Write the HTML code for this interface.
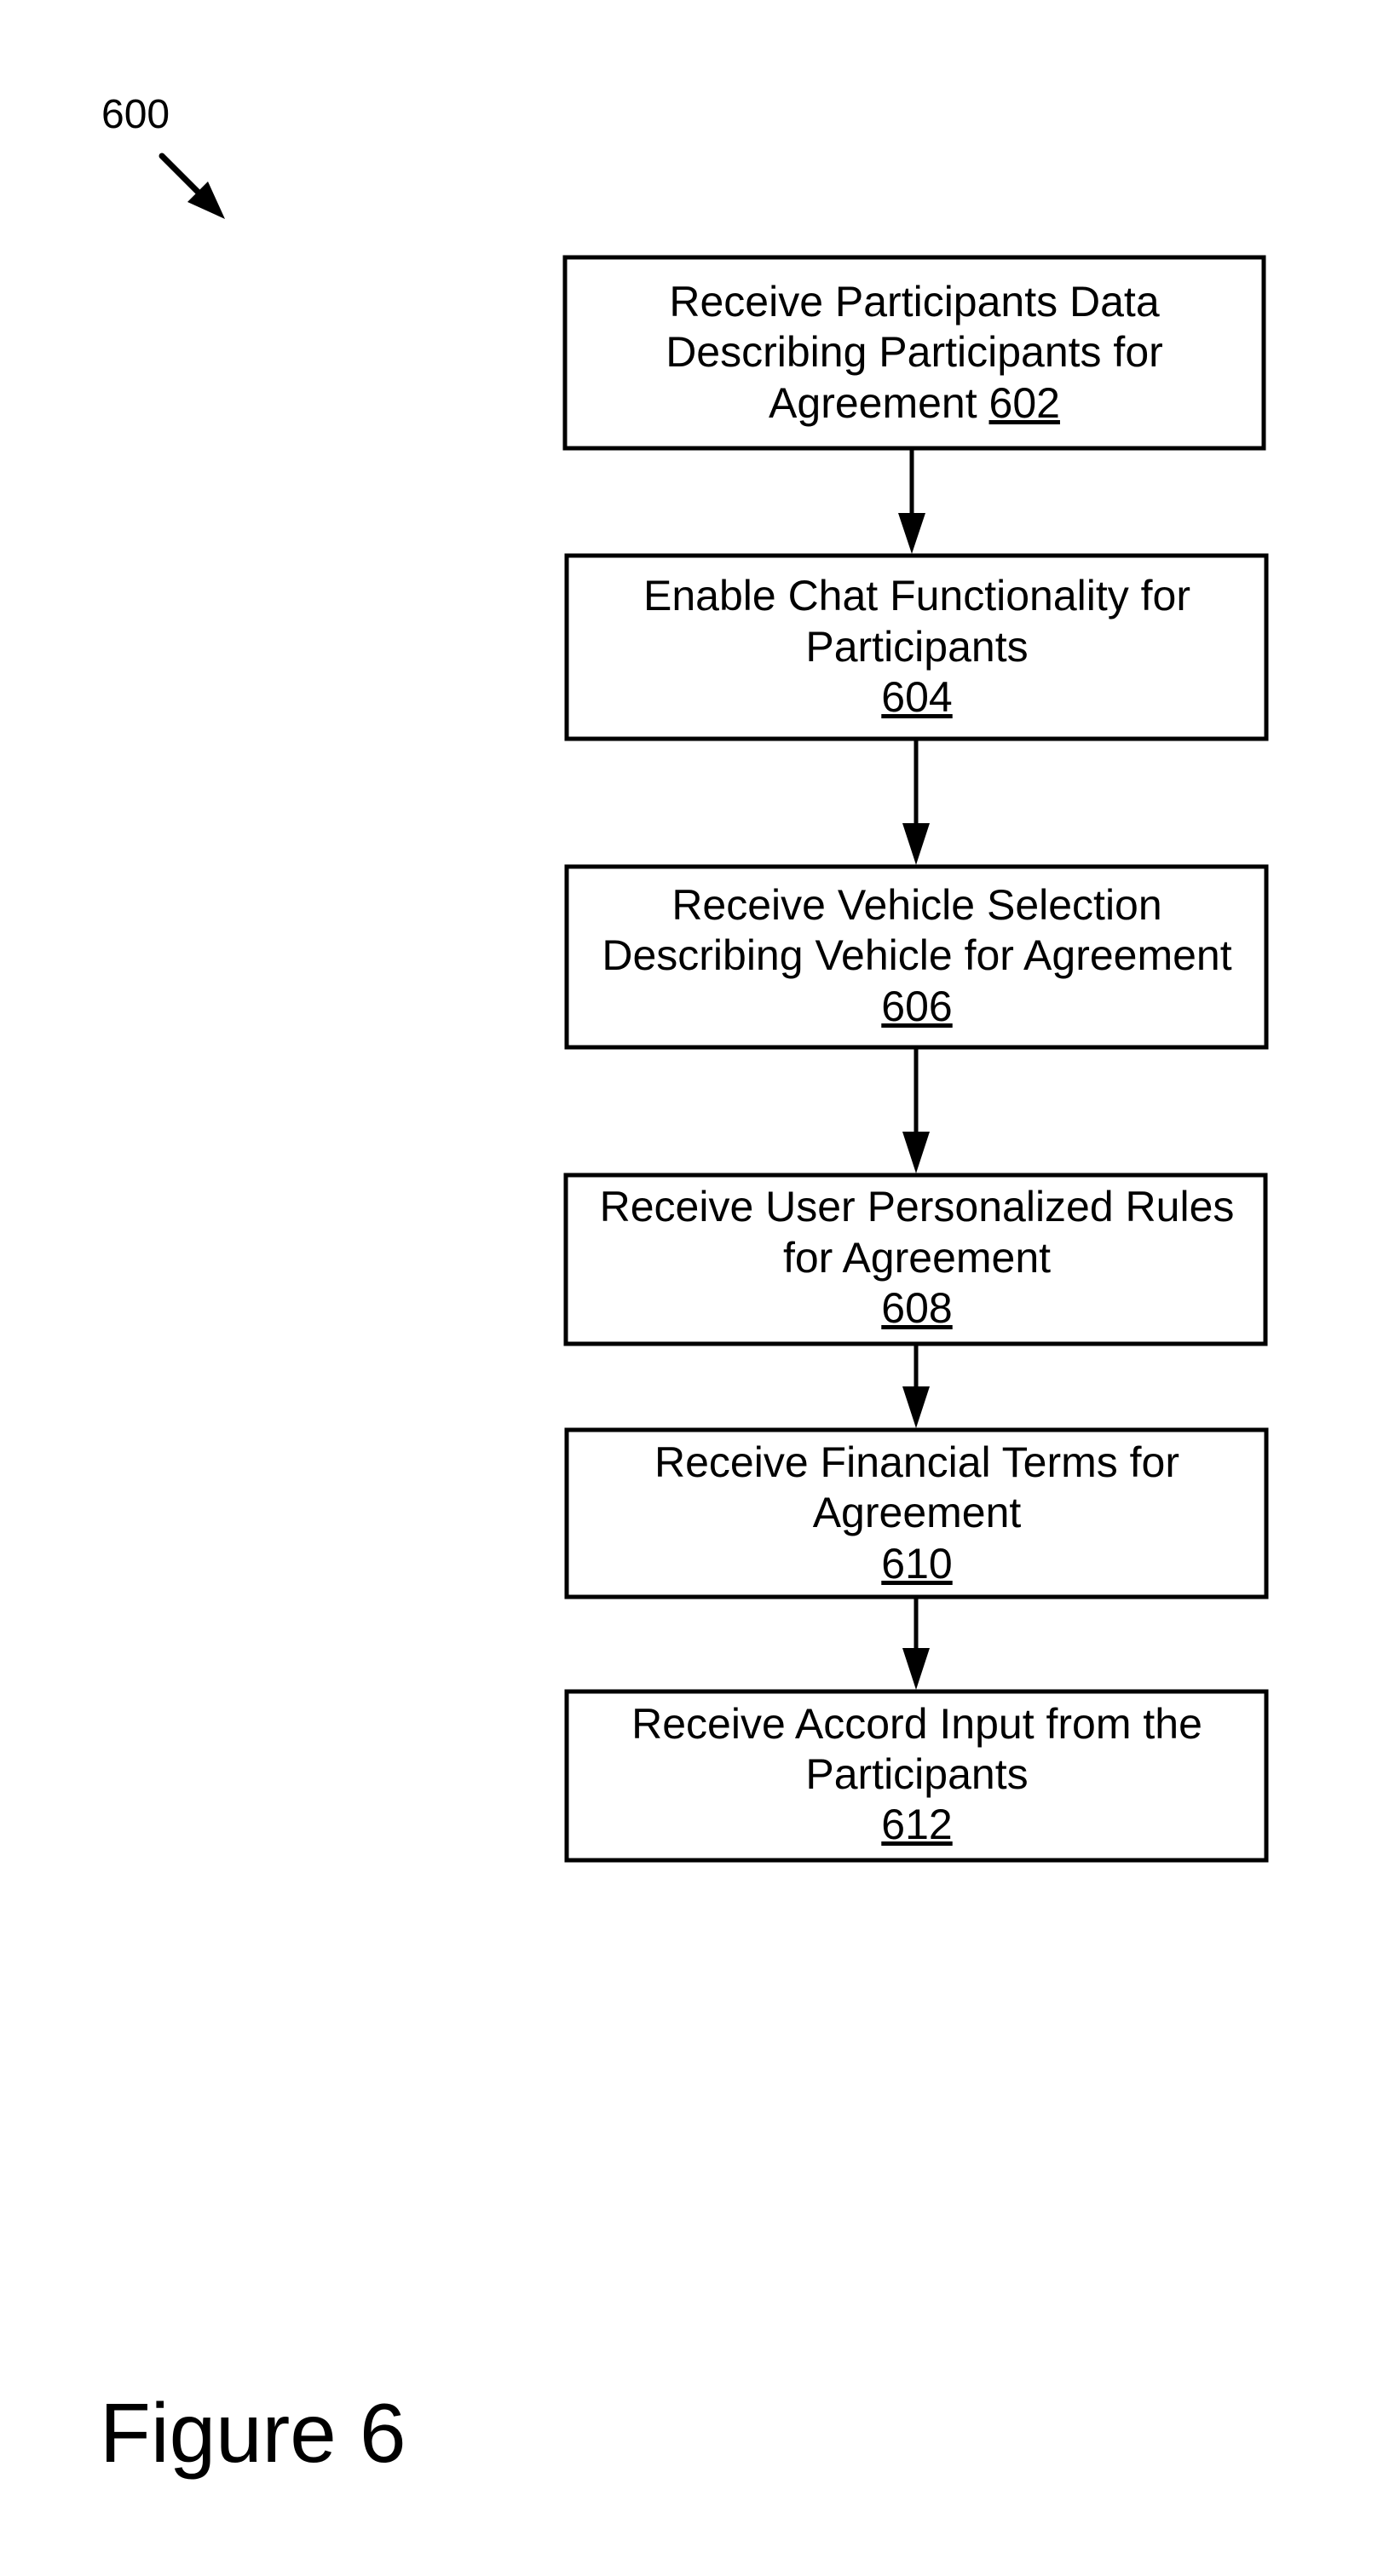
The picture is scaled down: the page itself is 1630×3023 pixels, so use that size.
<!DOCTYPE html>
<html><head><meta charset="utf-8"><style>
html,body{margin:0;padding:0;background:#fff;}
svg{display:block;}
text{font-family:"Liberation Sans",Arial,sans-serif;fill:#000;}
.t{font-size:50px;text-anchor:middle;}
</style></head><body>
<svg width="1630" height="3023" viewBox="0 0 1630 3023" xmlns="http://www.w3.org/2000/svg">
<text x="119" y="150" style="font-size:48px">600</text>
<line x1="190" y1="183" x2="240" y2="233" stroke="#000" stroke-width="7" stroke-linecap="round"/>
<polygon points="264,257 220,237 244,213" fill="#000"/>
<g fill="none" stroke="#000" stroke-width="5">
<rect x="663" y="302" width="820" height="224"/>
<rect x="665" y="652" width="821" height="215"/>
<rect x="665" y="1017" width="821" height="212"/>
<rect x="664" y="1379" width="821" height="198"/>
<rect x="665" y="1678" width="821" height="196"/>
<rect x="665" y="1985" width="821" height="198"/>
</g>
<g stroke="#000" stroke-width="5">
<line x1="1070" y1="526" x2="1070" y2="606"/>
<line x1="1075" y1="867" x2="1075" y2="970"/>
<line x1="1075" y1="1229" x2="1075" y2="1332"/>
<line x1="1075" y1="1577" x2="1075" y2="1631"/>
<line x1="1075" y1="1874" x2="1075" y2="1938"/>
</g>
<g fill="#000">
<polygon points="1054,602 1086,602 1070,650"/>
<polygon points="1059,966 1091,966 1075,1015"/>
<polygon points="1059,1328 1091,1328 1075,1377"/>
<polygon points="1059,1627 1091,1627 1075,1676"/>
<polygon points="1059,1934 1091,1934 1075,1983"/>
</g>
<text class="t" x="1073" y="371">Receive Participants Data</text>
<text class="t" x="1073" y="430">Describing Participants for</text>
<text class="t" x="1073" y="490">Agreement <tspan text-decoration="underline">602</tspan></text>
<text class="t" x="1076" y="716">Enable Chat Functionality for</text>
<text class="t" x="1076" y="776">Participants</text>
<text class="t" x="1076" y="835" text-decoration="underline">604</text>
<text class="t" x="1076" y="1079">Receive Vehicle Selection</text>
<text class="t" x="1076" y="1138">Describing Vehicle for Agreement</text>
<text class="t" x="1076" y="1198" text-decoration="underline">606</text>
<text class="t" x="1076" y="1433">Receive User Personalized Rules</text>
<text class="t" x="1076" y="1493">for Agreement</text>
<text class="t" x="1076" y="1552" text-decoration="underline">608</text>
<text class="t" x="1076" y="1733">Receive Financial Terms for</text>
<text class="t" x="1076" y="1792">Agreement</text>
<text class="t" x="1076" y="1852" text-decoration="underline">610</text>
<text class="t" x="1076" y="2040">Receive Accord Input from the</text>
<text class="t" x="1076" y="2099">Participants</text>
<text class="t" x="1076" y="2158" text-decoration="underline">612</text>
<text x="117" y="2889" style="font-size:98px">Figure 6</text>
</svg>
</body></html>
